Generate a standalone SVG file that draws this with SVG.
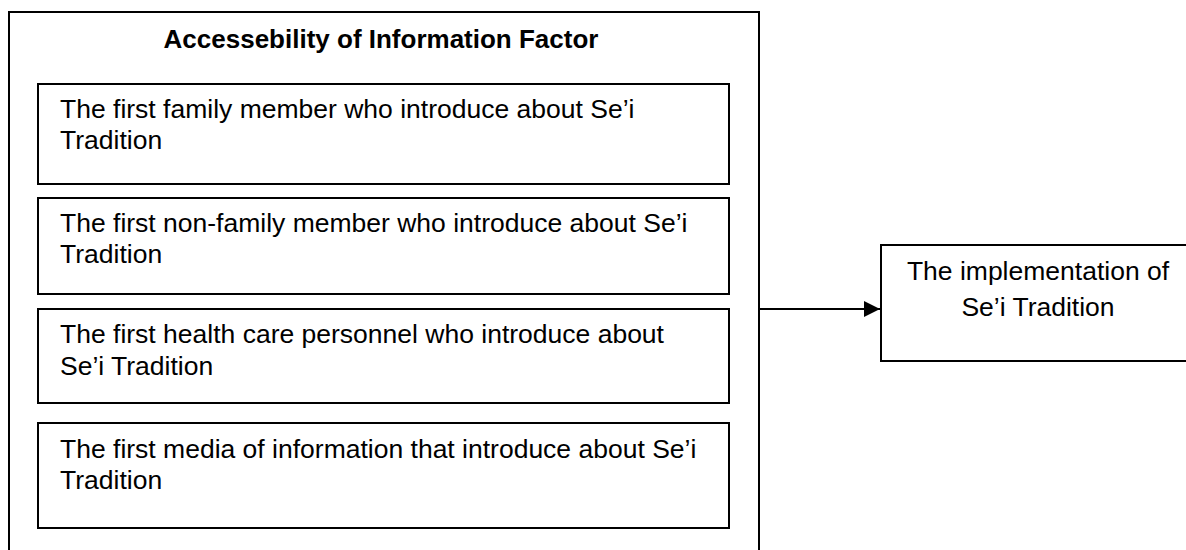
<svg xmlns="http://www.w3.org/2000/svg" width="1186" height="550" viewBox="0 0 1186 550">
<style>
.box{fill:#fff;stroke:#000;stroke-width:2}
.t{font-family:"Liberation Sans",Arial,sans-serif;font-size:26.5px;fill:#000}
.b{font-weight:bold;font-size:26px}
.conn{stroke:#000;stroke-width:1.8;fill:none}
</style>
<defs>
<marker id="arr" viewBox="0 0 16 16" refX="16" refY="8" markerWidth="16" markerHeight="16" markerUnits="userSpaceOnUse" orient="auto">
<path d="M0,0 L16,8 L0,16 Z" fill="#000"/>
</marker>
</defs>
<rect width="1186" height="550" fill="#fff"/>
<g id="factor">
<rect class="box" x="9" y="12" width="750" height="560"/>
<text class="t b" x="381" y="48" text-anchor="middle">Accessebility of Information Factor</text>
</g>
<g id="family">
<rect class="box" x="38" y="84" width="691" height="100"/>
<text class="t" x="60" y="118">The first family member who introduce about Se’i</text>
<text class="t" x="60" y="149">Tradition</text>
</g>
<g id="nonfamily">
<rect class="box" x="38" y="198" width="691" height="96"/>
<text class="t" x="60" y="232">The first non-family member who introduce about Se’i</text>
<text class="t" x="60" y="263">Tradition</text>
</g>
<g id="health">
<rect class="box" x="38" y="309" width="691" height="94"/>
<text class="t" x="60" y="343">The first health care personnel who introduce about</text>
<text class="t" x="60" y="375">Se’i Tradition</text>
</g>
<g id="media">
<rect class="box" x="38" y="423" width="691" height="105"/>
<text class="t" x="60" y="458">The first media of information that introduce about Se’i</text>
<text class="t" x="60" y="489">Tradition</text>
</g>
<g id="implementation">
<rect class="box" x="881" y="245" width="320" height="116"/>
<text class="t" x="1038" y="280" text-anchor="middle">The implementation of</text>
<text class="t" x="1038" y="316" text-anchor="middle">Se’i Tradition</text>
</g>
<g id="connectors">
<line class="conn" x1="759" y1="309" x2="880" y2="309" marker-end="url(#arr)"/>
</g>
</svg>
